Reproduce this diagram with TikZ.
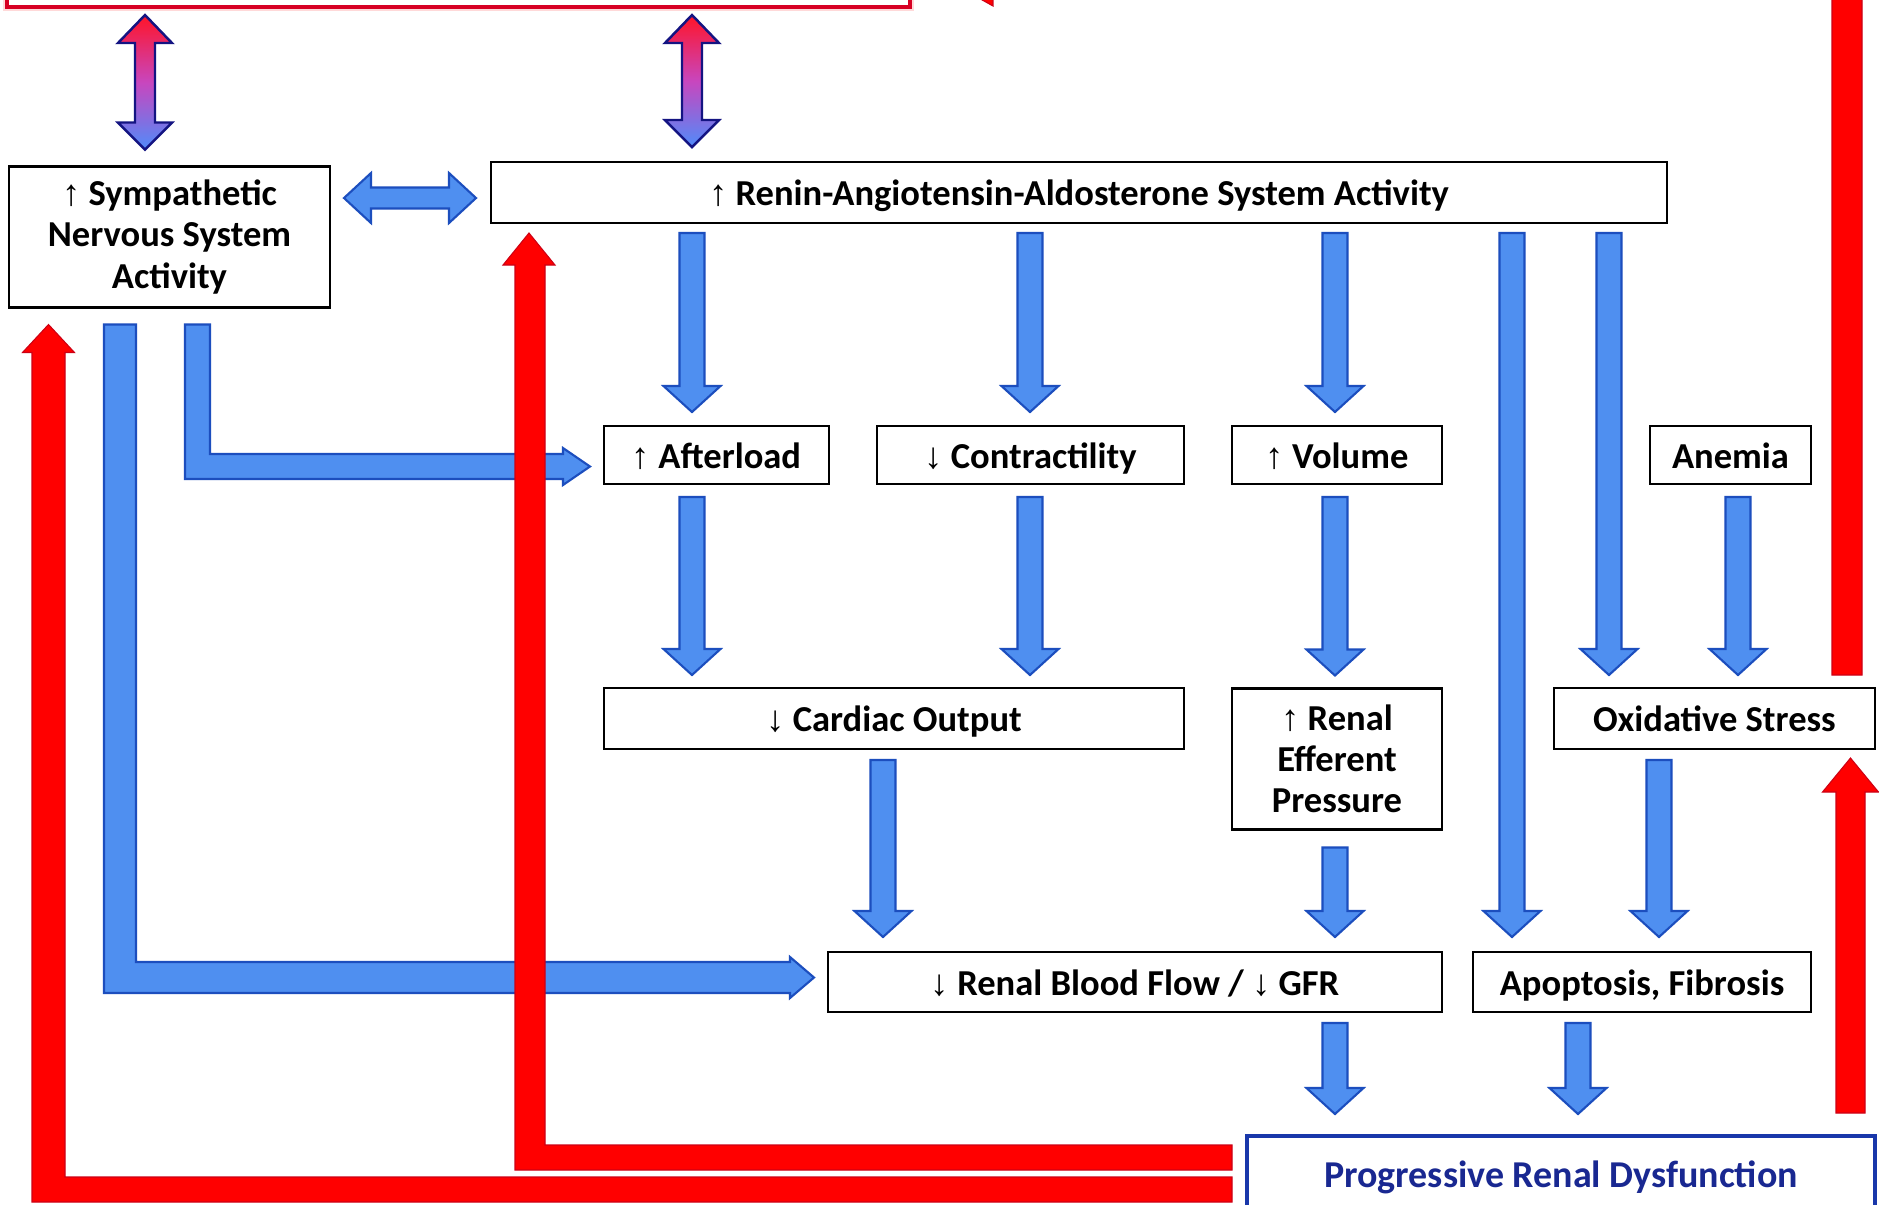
\documentclass[tikz,border=0pt]{standalone}
\usepackage{fontspec}
\usetikzlibrary{calc}
\newfontfamily\calfont{Carlito}
\newfontfamily\arrfont{Liberation Sans}
\newcommand\UA{{\arrfont ↑}}
\newcommand\DA{{\arrfont ↓}}
\definecolor{bfill}{RGB}{79,143,240}
\definecolor{bedge}{RGB}{28,78,190}
\definecolor{rfill}{RGB}{255,0,0}
\definecolor{redge}{RGB}{205,0,20}
\definecolor{navyedge}{RGB}{20,20,130}
\definecolor{gtop}{RGB}{255,20,40}
\definecolor{gmid}{RGB}{200,70,190}
\definecolor{gbot}{RGB}{80,140,250}
\definecolor{progblue}{RGB}{25,55,170}
\definecolor{progtext}{RGB}{25,40,145}
\definecolor{topred}{RGB}{215,0,35}
\newcommand\bdown[5]{%
 \coordinate (bs) at ($(#1,0 |- #2)+(0,#3)$);
 \coordinate (be) at ($(#1,0 |- #4)+(0,-#5)$);
 \path[bluefat] ($(bs)+(-12.5,0)$) -- ($(bs)+(12.5,0)$) -- ($(be)+(12.5,-26)$) -- ($(be)+(28.5,-26)$) -- (be) -- ($(be)+(-28.5,-26)$) -- ($(be)+(-12.5,-26)$) -- cycle;}
\newcommand\gdbl[5]{%
 \coordinate (gt) at ($(#1,0 |- #2)+(0,#3)$);
 \coordinate (gb) at ($(#1,0 |- #4)+(0,-#5)$);
 \path[gradfat] (gt) -- ($(gt)+(27,28)$) -- ($(gt)+(10,28)$) -- ($(gb)+(10,-27)$) -- ($(gb)+(27,-27)$) -- (gb) -- ($(gb)+(-27,-27)$) -- ($(gb)+(-10,-27)$) -- ($(gt)+(-10,28)$) -- ($(gt)+(-27,28)$) -- cycle;}
\begin{document}
\begin{tikzpicture}[x=0.1mm,y=-0.1mm,
  every node/.style={inner sep=0pt, outer sep=0pt},
  box/.style={draw=black, line width=0.6pt, fill=white, align=center, text=black,
    font=\calfont\bfseries\fontsize{10.4pt}{11.7pt}\selectfont},
  one/.style={box, text height=0.87em, text depth=0.13em},
  progbox/.style={one, draw=progblue, line width=0.9pt, text=progtext,
    font=\calfont\bfseries\fontsize{10.8pt}{12pt}\selectfont},
  topbox/.style={draw=topred, line width=0.9pt, fill=white,
    preaction={draw=pink!60, line width=2.2pt}},
  bluefat/.style={fill=bfill, draw=bedge, line width=0.6pt, line join=miter},
  gradfat/.style={top color=gtop, bottom color=gbot, middle color=gmid, draw=navyedge, line width=0.7pt, line join=miter},
  redfat/.style={fill=rfill, draw=redge, line width=0.3pt, line join=miter}]
\useasboundingbox (0,0) rectangle (1879,1204);
\clip (0,0) rectangle (1879,1204);
\fill[white] (0,0) rectangle (1879,1204);

% boxes
\node[topbox, minimum width=90.3mm, minimum height=8.7mm] (top) at (458.5,-36.5) {};
\node[box, minimum width=32.1mm, minimum height=14.1mm] (symp) at (169.5,237) {\UA{} Sympathetic\\Nervous System\\Activity};
\node[one, minimum width=117.6mm, minimum height=6.1mm] (raas) at (1079,192.5) {\UA{} Renin-Angiotensin-Aldosterone System Activity};
\node[one, minimum width=22.5mm, minimum height=5.8mm] (after) at (716.5,455) {\UA{} Afterload};
\node[one, minimum width=30.7mm, minimum height=5.8mm] (contr) at (1030.5,455) {\DA{} Contractility};
\node[one, minimum width=21.0mm, minimum height=5.8mm] (vol) at (1337,455) {\UA{} Volume};
\node[one, minimum width=16.1mm, minimum height=5.8mm] (anem) at (1730.5,455) {Anemia};
\node[one, minimum width=58.0mm, minimum height=6.1mm] (card) at (894,718.5) {\DA{} Cardiac Output};
\node[box, minimum width=21.0mm, minimum height=14.1mm] (eff) at (1337,759) {\UA{} Renal\\Efferent\\Pressure};
\node[one, minimum width=32.1mm, minimum height=6.1mm] (oxid) at (1714.5,718.5) {Oxidative Stress};
\node[one, minimum width=61.4mm, minimum height=6.0mm] (rbf) at (1135,982) {\DA{} Renal Blood Flow / \DA{} GFR};
\node[one, minimum width=33.8mm, minimum height=6.0mm] (apop) at (1642,982) {Apoptosis, Fibrosis};
\node[progbox, minimum width=62.8mm, minimum height=7.6mm] (prog) at (1561,1174) {Progressive Renal Dysfunction};

% gradient double arrows
\gdbl{145}{top.south}{8}{symp.north}{17}
\gdbl{692}{top.south}{8}{raas.north}{15}

% horizontal double arrow
\coordinate (hl) at ($(symp.east |- 0,198)+(14,0)$);
\coordinate (hr) at ($(raas.west |- 0,198)+(-15,0)$);
\path[bluefat] (hl) -- ($(hl)+(27,-25)$) -- ($(hl)+(27,-10.5)$) -- ($(hr)+(-27,-10.5)$) -- ($(hr)+(-27,-25)$) -- (hr) -- ($(hr)+(-27,25)$) -- ($(hr)+(-27,10.5)$) -- ($(hl)+(27,10.5)$) -- ($(hl)+(27,25)$) -- cycle;

% blue down arrows
\bdown{692}{raas.south}{10}{after.north}{14}
\bdown{1030}{raas.south}{10}{contr.north}{14}
\bdown{1335}{raas.south}{10}{vol.north}{14}
\bdown{1512}{raas.south}{10}{apop.north}{15}
\bdown{1609}{raas.south}{10}{oxid.north}{13}
\bdown{692}{after.south}{13}{card.north}{13}
\bdown{1030}{contr.south}{13}{card.north}{13}
\bdown{1335}{vol.south}{13}{eff.north}{13}
\bdown{1738}{anem.south}{13}{oxid.north}{13}
\bdown{883}{card.south}{11}{rbf.north}{15}
\bdown{1335}{eff.south}{18}{rbf.north}{15}
\bdown{1659}{oxid.south}{11}{apop.north}{15}
\bdown{1335}{rbf.south}{11}{prog.north}{22}
\bdown{1578}{apop.south}{11}{prog.north}{22}

% blue elbow: sympathetic -> renal blood flow
\coordinate (bo1) at ($(120,0 |- symp.south)+(0,17)$);
\coordinate (bo2) at ($(rbf.west |- 0,977.5)+(-14,0)$);
\path[bluefat] ($(bo1)+(-16,0)$) -- ($(bo1)+(16,0)$) -- ($(136,0 |- bo2)+(0,-15.5)$) -- ($(bo2)+(-24,-15.5)$) -- ($(bo2)+(-24,-20.5)$) -- (bo2) -- ($(bo2)+(-24,20.5)$) -- ($(bo2)+(-24,15.5)$) -- ($(104,0 |- bo2)+(0,15.5)$) -- cycle;

% blue elbow: sympathetic -> afterload
\coordinate (bi1) at ($(197.5,0 |- symp.south)+(0,17)$);
\coordinate (bi2) at ($(after.west |- 0,466.5)+(-14,0)$);
\path[bluefat] ($(bi1)+(-12.5,0)$) -- ($(bi1)+(12.5,0)$) -- ($(210,0 |- bi2)+(0,-12.5)$) -- ($(bi2)+(-27,-12.5)$) -- ($(bi2)+(-27,-18.5)$) -- (bi2) -- ($(bi2)+(-27,18.5)$) -- ($(bi2)+(-27,12.5)$) -- ($(185,0 |- bi2)+(0,12.5)$) -- cycle;

% red: progressive -> sympathetic (outer)
\coordinate (ro1) at ($(prog.west |- 0,1189.5)+(-15,0)$);
\coordinate (ro2) at ($(48.5,0 |- symp.south)+(0,17)$);
\path[redfat] ($(ro1)+(0,-12.5)$) -- ($(65,0 |- ro1)+(0,-12.5)$) -- ($(ro2)+(16.5,28)$) -- ($(ro2)+(26,28)$) -- (ro2) -- ($(ro2)+(-26,28)$) -- ($(ro2)+(-16.5,28)$) -- ($(32,0 |- ro1)+(0,12.5)$) -- ($(ro1)+(0,12.5)$) -- cycle;

% red: progressive -> RAAS (inner)
\coordinate (ri1) at ($(prog.west |- 0,1157.5)+(-15,0)$);
\coordinate (ri2) at ($(529,0 |- raas.south)+(0,10)$);
\path[redfat] ($(ri1)+(0,-12.5)$) -- ($(545,0 |- ri1)+(0,-12.5)$) -- ($(ri2)+(16,32)$) -- ($(ri2)+(26,32)$) -- (ri2) -- ($(ri2)+(-26,32)$) -- ($(ri2)+(-14,32)$) -- ($(515,0 |- ri1)+(0,12.5)$) -- ($(ri1)+(0,12.5)$) -- cycle;

% red: progressive -> oxidative stress
\coordinate (ru1) at ($(1850.5,0 |- prog.north)+(0,-23)$);
\coordinate (ru2) at ($(1850.5,0 |- oxid.south)+(0,9)$);
\path[redfat] ($(ru1)+(-14.5,0)$) -- ($(ru2)+(-14.5,34)$) -- ($(ru2)+(-28,34)$) -- (ru2) -- ($(ru2)+(28,34)$) -- ($(ru2)+(14.5,34)$) -- ($(ru1)+(14.5,0)$) -- cycle;

% red: oxidative stress -> top box
\coordinate (rt1) at ($(1847,0 |- oxid.north)+(0,-13)$);
\coordinate (rt2) at ($(top.east |- 0,-18)+(40,0)$);
\path[redfat] ($(rt1)+(-15,0)$) -- ($(1832,0 |- rt2)+(0,15)$) -- ($(rt2)+(43,15)$) -- ($(rt2)+(43,24)$) -- (rt2) -- ($(rt2)+(43,-24)$) -- ($(rt2)+(43,-15)$) -- ($(1862,0 |- rt2)+(0,-15)$) -- ($(rt1)+(15,0)$) -- cycle;
\end{tikzpicture}
\end{document}
